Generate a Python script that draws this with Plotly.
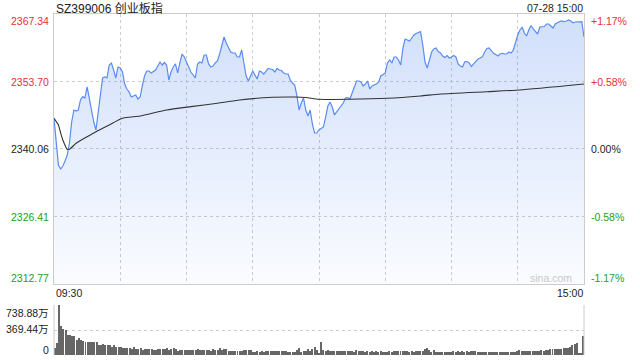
import plotly.graph_objects as go

# ---------------- data ----------------
minutes = list(range(241))  # 0 = 09:30 ... 120 = 11:30/13:00 ... 240 = 15:00

prices = [
    2346.26, 2340.86, 2336.82, 2336.01, 2336.62, 2337.63, 2338.84, 2341.27, 2345.51, 2347.94,
    2347.74, 2347.94, 2349.96, 2350.63, 2350.36, 2352.59, 2349.96, 2347.33, 2345.51, 2343.90,
    2347.53, 2350.97, 2354.41, 2354.61, 2354.41, 2357.03, 2357.44, 2356.02, 2354.41, 2356.63,
    2356.43, 2355.62, 2353.19, 2352.18, 2351.58, 2350.56, 2350.77, 2350.97, 2350.16, 2350.56,
    2352.79, 2354.81, 2355.82, 2355.82, 2355.42, 2355.82, 2356.02, 2356.83, 2357.64, 2357.03,
    2357.54, 2357.03, 2354.00, 2355.62, 2356.63, 2357.24, 2355.42, 2357.44, 2359.26, 2358.65,
    2357.64, 2356.43, 2355.62, 2355.01, 2354.41, 2357.24, 2357.64, 2357.44, 2359.05, 2359.05,
    2357.24, 2356.63, 2356.83, 2357.44, 2357.84, 2359.26, 2361.28, 2362.69, 2361.48, 2360.47,
    2359.66, 2359.46, 2359.46, 2358.65, 2358.65, 2360.06, 2357.64, 2354.81, 2353.80, 2354.81,
    2355.82, 2355.01, 2354.20, 2355.82, 2355.62, 2355.21, 2355.82, 2356.33, 2356.22, 2356.12,
    2355.62, 2356.33, 2356.02, 2355.92, 2355.42, 2355.21, 2355.21, 2354.00, 2353.39, 2352.99,
    2350.77, 2347.94, 2349.35, 2350.36, 2347.94, 2346.72, 2347.94, 2345.11, 2343.29, 2343.29,
    2343.90, 2344.30, 2344.50, 2346.52, 2348.75, 2349.56, 2348.54, 2346.93, 2347.53, 2348.14,
    2348.61, 2349.35, 2350.36, 2350.46, 2350.16, 2351.37, 2352.79, 2353.80, 2353.80, 2353.60,
    2352.79, 2353.19, 2353.80, 2352.18, 2352.79, 2352.99, 2353.19, 2353.60, 2354.81, 2355.11,
    2355.42, 2357.44, 2358.04, 2357.44, 2358.65, 2358.65, 2358.04, 2357.03, 2360.47, 2362.29,
    2362.09, 2361.88, 2362.49, 2363.10, 2363.40, 2363.60, 2363.80, 2361.07, 2357.64, 2356.43,
    2358.04, 2359.66, 2360.27, 2360.47, 2359.76, 2359.46, 2358.85, 2358.55, 2358.95, 2358.45,
    2358.65, 2358.95, 2358.65, 2357.24, 2356.83, 2356.63, 2357.70, 2357.74, 2357.44, 2356.73,
    2357.24, 2357.74, 2358.25, 2358.45, 2358.71, 2359.66, 2360.37, 2360.47, 2359.86, 2359.40,
    2359.15, 2358.85, 2359.26, 2359.40, 2359.26, 2359.26, 2359.66, 2359.46, 2360.06, 2361.88,
    2363.10, 2364.11, 2364.71, 2363.50, 2362.89, 2364.11, 2365.02, 2364.31, 2363.70, 2363.30,
    2364.71, 2364.81, 2364.81, 2365.32, 2365.32, 2364.91, 2364.51, 2365.32, 2365.62, 2365.82,
    2365.93, 2365.78, 2365.93, 2366.13, 2365.93, 2365.58, 2365.72, 2365.78, 2365.72, 2365.78,
    2362.69,
]

avg_minutes = [0, 2, 3, 4, 6, 7, 10, 15, 19, 25, 31, 39, 51, 62, 74, 84, 99, 109, 114, 120,
               133, 151, 166, 175, 196, 211, 240]
avg_values = [2346.26, 2344.91, 2343.29, 2341.87, 2340.00, 2340.00, 2341.21, 2342.54, 2343.55,
              2344.91, 2346.26, 2346.72, 2347.94, 2348.61, 2349.29, 2349.96, 2350.50, 2350.56,
              2350.46, 2350.10, 2350.10, 2350.30, 2350.77, 2351.17, 2351.64, 2351.98, 2353.19]

volumes = [  # 万
    100, 174, 738.88, 424, 384, 364, 294, 294, 274, 274,
    224, 244, 224, 210, 195, 185, 185, 185, 185, 185,
    155, 145, 170, 155, 145, 145, 125, 145, 125, 115,
    125, 105, 105, 105, 105, 85, 115, 95, 95, 105,
    75, 95, 95, 95, 85, 75, 75, 85, 85, 85,
    85, 100, 75, 90, 100, 90, 65, 74, 74, 74,
    74, 74, 74, 74, 74, 89, 74, 74, 74, 74,
    74, 59, 89, 74, 74, 104, 74, 89, 89, 59,
    59, 59, 59, 59, 59, 59, 74, 74, 74, 74,
    44, 44, 59, 44, 59, 44, 59, 59, 59, 59,
    59, 59, 59, 59, 59, 59, 44, 49, 44, 49,
    74, 108, 49, 59, 59, 89, 59, 84, 123, 74,
    15, 197, 74, 64, 74, 64, 59, 59, 59, 59,
    59, 59, 59, 59, 59, 59, 49, 74, 59, 59,
    59, 44, 59, 44, 59, 49, 59, 49, 59, 49,
    49, 44, 59, 44, 59, 59, 59, 59, 59, 59,
    59, 49, 59, 49, 59, 59, 59, 59, 89, 108,
    74, 44, 74, 44, 44, 44, 44, 44, 44, 44,
    44, 59, 44, 54, 44, 54, 44, 59, 44, 59,
    59, 59, 44, 44, 44, 49, 44, 44, 49, 44,
    49, 44, 44, 49, 44, 44, 49, 44, 49, 49,
    59, 74, 59, 59, 64, 64, 59, 64, 59, 64,
    64, 74, 64, 74, 74, 89, 89, 89, 89, 89,
    89, 108, 108, 108, 123, 148, 163, 172, 15, 30, 286,
]

price_ticks = [2367.34, 2353.70, 2340.06, 2326.41, 2312.77]
pct_ticks = ["+1.17%", "+0.58%", "0.00%", "-0.58%", "-1.17%"]
vol_ticks = [738.88, 369.44, 0]
vol_labels = ["738.88万", "369.44万", "0"]
title_text = "SZ399006 创业板指"
date_text = "07-28 15:00"
start_label, end_label = "09:30", "15:00"

# ---------------- style ----------------
W, H = 640, 360
L, R = 54, 584
T1, B1 = 14, 284
T2, B2 = 305, 355
RED, GREEN, DARK = "#ec2f2f", "#23a023", "#222222"
GRID = "#cccccc"
FONT = "Liberation Sans, Arial, Noto Sans CJK SC, sans-serif"


def px(x):
    return x / W


def py(y):
    return 1 - y / H


fig = go.Figure()

ymin, ymax = price_ticks[-1], price_ticks[0]

fig.add_trace(go.Scatter(
    x=minutes, y=prices, mode="lines",
    line=dict(color="#5a8cf0", width=1.2),
    fill="tozeroy",
    fillgradient=dict(type="vertical", start=ymin, stop=ymax,
                      colorscale=[[0, "rgba(90,140,240,0.03)"], [1, "rgba(90,140,240,0.28)"]]),
    hoverinfo="skip", xaxis="x", yaxis="y",
))
fig.add_trace(go.Scatter(
    x=avg_minutes, y=avg_values, mode="lines",
    line=dict(color="#333333", width=1.1, shape="spline", smoothing=0.5),
    hoverinfo="skip", xaxis="x", yaxis="y",
))
fig.add_trace(go.Bar(
    x=minutes, y=volumes, width=0.45,
    marker=dict(color="#666666", line=dict(width=0)),
    hoverinfo="skip", xaxis="x2", yaxis="y2",
))

fig.update_layout(
    width=W, height=H, margin=dict(l=0, r=0, t=0, b=0),
    paper_bgcolor="white", plot_bgcolor="rgba(0,0,0,0)",
    showlegend=False, bargap=0,
    font=dict(family=FONT, size=10.5, color=DARK),
    xaxis=dict(domain=[px(L), px(R)], range=[0, 240], tickvals=[30, 60, 90, 120, 150, 180, 210],
               showticklabels=False, ticks="", showgrid=True, gridcolor=GRID, griddash="dot",
               gridwidth=1, zeroline=False, showline=True, mirror=True, linecolor=GRID,
               linewidth=1, anchor="y"),
    yaxis=dict(domain=[py(B1), py(T1)], range=[ymin, ymax], tickvals=price_ticks[1:4],
               showticklabels=False, ticks="", showgrid=True, gridcolor=GRID, griddash="dot",
               gridwidth=1, zeroline=False, showline=True, mirror=True, linecolor=GRID,
               linewidth=1, anchor="x"),
    xaxis2=dict(domain=[px(L), px(R)], range=[-0.3, 240.3], showticklabels=False, ticks="",
                showgrid=False, zeroline=False, showline=False, anchor="y2"),
    yaxis2=dict(domain=[py(B2), py(T2)], range=[0, vol_ticks[0]], tickvals=vol_ticks,
                showticklabels=False, ticks="", showgrid=True, gridcolor=GRID, griddash="dot",
                gridwidth=1, zeroline=False, showline=False, anchor="x2"),
)

# volume panel side borders
for xx in (L, R):
    fig.add_shape(type="line", xref="paper", yref="paper", x0=px(xx), x1=px(xx),
                  y0=py(B2), y1=py(T2), line=dict(color=GRID, width=1))

ann = []
label_y = [21, 82.5, 149.3, 216.8, 278]
label_col = [RED, RED, DARK, GREEN, GREEN]
for v, yy, c in zip(price_ticks, label_y, label_col):
    ann.append(dict(text=f"{v:.2f}", x=px(51), y=py(yy), xanchor="right", yanchor="middle",
                    font=dict(color=c)))
for t, yy, c in zip(pct_ticks, label_y, label_col):
    ann.append(dict(text=t, x=px(589), y=py(yy), xanchor="left", yanchor="middle",
                    font=dict(color=c)))
for t, yy in zip(vol_labels, [312.5, 329, 349.5]):
    ann.append(dict(text=t, x=px(51), y=py(yy), xanchor="right", yanchor="middle"))
ann.append(dict(text=title_text, x=px(54), y=py(8), xanchor="left", yanchor="middle",
                font=dict(size=12, color=DARK)))
ann.append(dict(text=date_text, x=px(585), y=py(8), xanchor="right", yanchor="middle"))
ann.append(dict(text=start_label, x=px(54), y=py(292.5), xanchor="left", yanchor="middle"))
ann.append(dict(text=end_label, x=px(585), y=py(292.5), xanchor="right", yanchor="middle"))
ann.append(dict(text="sina.com", x=px(574), y=py(278), xanchor="right", yanchor="middle",
                font=dict(color="#c8c8c8", size=10.5)))
for a in ann:
    a.update(xref="paper", yref="paper", showarrow=False)
fig.update_layout(annotations=ann)

fig.write_html("out.html")
